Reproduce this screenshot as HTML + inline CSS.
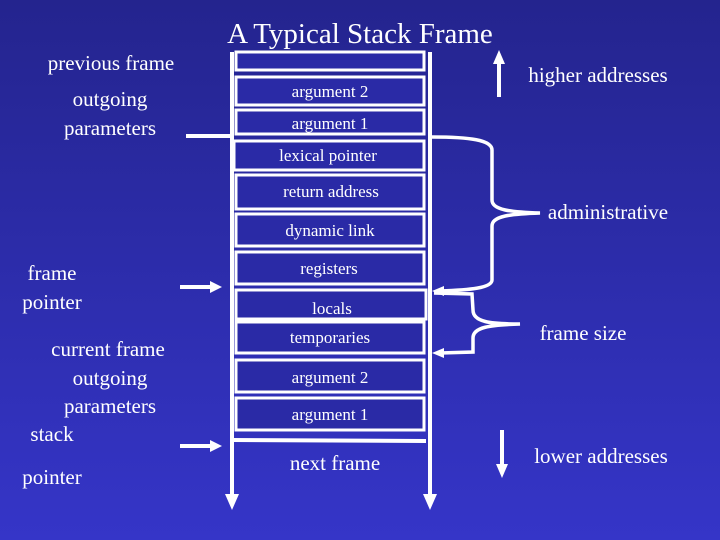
<!DOCTYPE html>
<html><head><style>
html,body{margin:0;padding:0}
body{width:720px;height:540px;overflow:hidden;background:linear-gradient(#24248e,#3535c8);font-family:"Liberation Serif",serif;}
svg{display:block}
svg text{font-family:"Liberation Serif","Times New Roman",serif}
</style></head><body>
<svg width="720" height="540" viewBox="0 0 720 540" xmlns="http://www.w3.org/2000/svg" style="font-family:'Liberation Serif',serif" fill="#fff">
<g fill="#2a2aa6" stroke="#fff" stroke-width="3">
<rect x="236" y="52" width="188" height="18"/>
<rect x="236" y="77" width="188" height="28"/>
<rect x="236" y="110" width="188" height="24"/>
<rect x="234" y="141" width="190" height="29"/>
<rect x="236" y="175" width="188" height="34"/>
<rect x="236" y="214" width="188" height="32"/>
<rect x="236" y="252" width="188" height="32"/>
<rect x="236" y="290" width="190" height="29"/>
<rect x="236" y="322" width="188" height="31"/>
<rect x="236" y="360" width="188" height="32"/>
<rect x="236" y="398" width="188" height="32"/>
</g>
<g stroke="#fff" stroke-width="4" fill="none">
<line x1="232" y1="52" x2="232" y2="500"/>
<line x1="430" y1="52" x2="430" y2="500"/>
<line x1="186" y1="136" x2="232" y2="136"/>
<line x1="180" y1="287" x2="218" y2="287"/>
<line x1="180" y1="446" x2="218" y2="446"/>
<line x1="232" y1="440" x2="426" y2="441"/>
<line x1="499" y1="62" x2="499" y2="97"/>
<line x1="502" y1="430" x2="502" y2="466"/>
<path d="M432 137 C470 137 492 140 492 150 L492 200 C492 210 510 212 540 213 C510 214 492 216 492 226 L492 280 C492 288 470 290 440 291" stroke-width="3.5"/>
<path d="M434 293 L472 294 L473 310 C473 322 490 324 520 324 C490 325 473 327 473 338 L473 352 L440 353" stroke-width="3.5"/>
</g>
<g fill="#fff">
<polygon points="222,287 210,281 210,293"/>
<polygon points="222,446 210,440 210,452"/>
<polygon points="232,510 225,494 239,494"/>
<polygon points="430,510 423,494 437,494"/>
<polygon points="499,50 493,64 505,64"/>
<polygon points="502,478 496,464 508,464"/>
<polygon points="432,291 444,286 444,296"/>
<polygon points="432,353 444,348 444,358"/>
</g>
<text x="360" y="43" font-size="29" text-anchor="middle">A Typical Stack Frame</text>
<text x="111" y="70" font-size="21" text-anchor="middle">previous frame</text>
<text x="110" y="106" font-size="21" text-anchor="middle">outgoing</text>
<text x="110" y="135" font-size="21" text-anchor="middle">parameters</text>
<text x="52" y="280" font-size="21" text-anchor="middle">frame</text>
<text x="52" y="309" font-size="21" text-anchor="middle">pointer</text>
<text x="108" y="356" font-size="21" text-anchor="middle">current frame</text>
<text x="110" y="385" font-size="21" text-anchor="middle">outgoing</text>
<text x="110" y="413" font-size="21" text-anchor="middle">parameters</text>
<text x="52" y="441" font-size="21" text-anchor="middle">stack</text>
<text x="52" y="484" font-size="21" text-anchor="middle">pointer</text>
<g font-size="17" text-anchor="middle">
<text x="330" y="97">argument 2</text>
<text x="330" y="129">argument 1</text>
<text x="328" y="161">lexical pointer</text>
<text x="331" y="197">return address</text>
<text x="330" y="236">dynamic link</text>
<text x="329" y="274">registers</text>
<text x="332" y="314">locals</text>
<text x="330" y="343">temporaries</text>
<text x="330" y="383">argument 2</text>
<text x="330" y="420">argument 1</text>
</g>
<text x="335" y="470" font-size="21" text-anchor="middle">next frame</text>
<text x="598" y="82" font-size="21" text-anchor="middle">higher addresses</text>
<text x="608" y="219" font-size="21" text-anchor="middle">administrative</text>
<text x="583" y="340" font-size="21" text-anchor="middle">frame size</text>
<text x="601" y="463" font-size="21" text-anchor="middle">lower addresses</text>
</svg>
</body></html>
